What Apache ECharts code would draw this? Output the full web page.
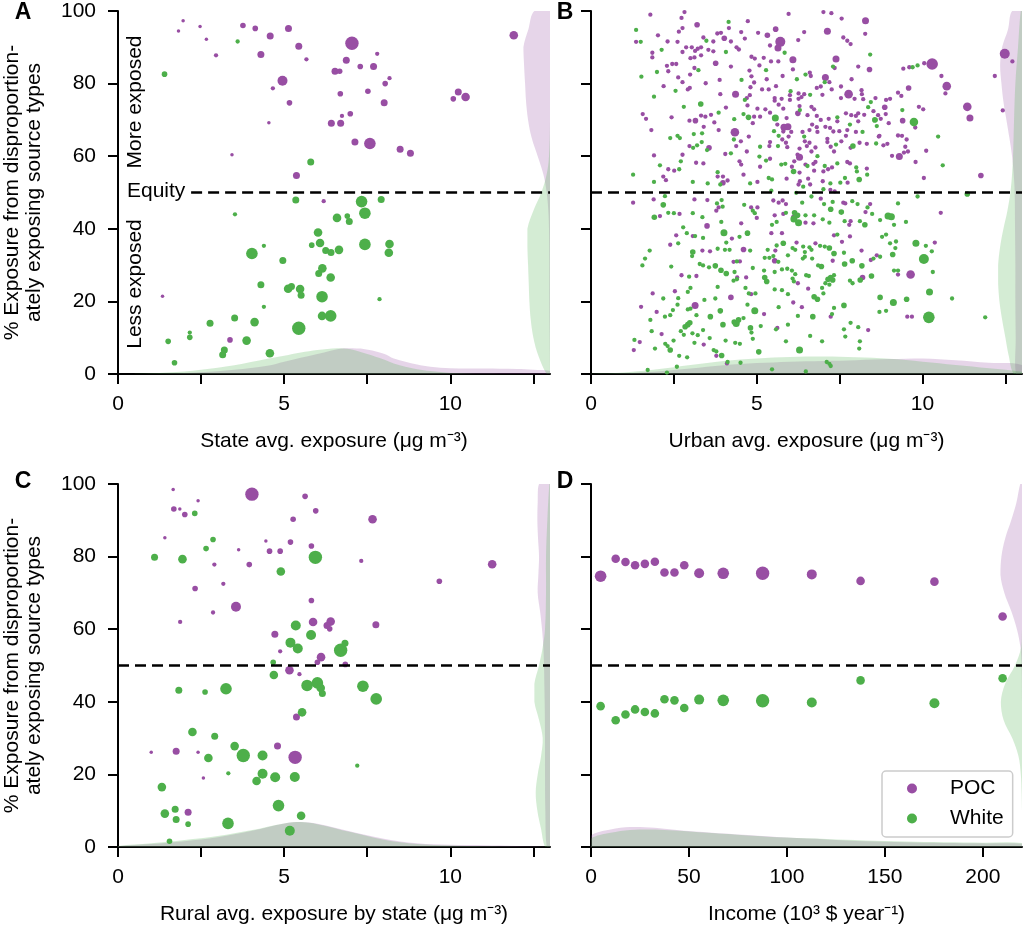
<!DOCTYPE html>
<html><head><meta charset="utf-8">
<script src="https://cdn.jsdelivr.net/npm/echarts@6/dist/echarts.min.js"></script>
<style>html,body{margin:0;padding:0;background:#fff}#c{width:1024px;height:929px}</style>
</head><body><div id="c"></div>
<script>
// ---------------- DATA ----------------
// scatter points: [x, y, marker-size class]
const A_POC = [[1.96,97.3,1],[1.82,94.5,1],[2.47,95.7,1],[2.66,92.2,1],[2.95,87.8,2],[3.76,96.0,3],[4.13,95.2,3],[4.58,93.1,4],[4.30,88.0,4],[5.13,95.2,4],[5.44,90.3,4],[5.67,86.7,2],[7.04,91.1,8],[6.87,86.4,4],[7.29,84.7,3],[7.80,88.2,2],[7.69,84.7,4],[6.53,83.4,4],[6.67,83.4,3],[4.95,80.8,6],[4.66,78.7,2],[6.69,77.2,3],[7.52,77.9,3],[8.04,80.0,3],[8.17,81.5,2],[5.16,74.7,3],[8.01,74.7,4],[4.54,69.2,1],[6.42,69.1,4],[6.70,69.1,4],[6.74,71.1,2],[6.99,71.7,3],[7.13,63.9,4],[7.58,63.5,7],[8.49,61.9,4],[8.80,60.8,4],[3.43,60.4,1],[5.37,54.7,4],[6.19,47.6,2],[10.09,75.8,3],[10.24,77.7,4],[10.46,76.3,5],[11.91,93.3,5],[1.34,21.4,1],[3.37,9.4,3]];
const A_WHITE = [[1.40,82.6,3],[3.60,91.6,2],[5.80,58.4,4],[5.35,47.9,4],[3.52,44.0,2],[7.33,47.5,7],[7.92,48.1,4],[7.43,44.3,7],[6.59,43.0,5],[6.90,43.5,3],[6.96,42.0,4],[6.02,39.0,5],[5.83,35.5,3],[6.08,36.1,5],[6.25,34.0,4],[6.41,33.5,4],[6.65,34.2,5],[7.43,35.7,7],[8.17,35.8,5],[8.15,33.4,5],[4.03,33.2,7],[4.39,35.3,2],[4.96,31.3,4],[6.15,29.1,5],[6.04,27.7,4],[6.40,26.6,5],[4.30,24.6,4],[5.12,23.5,5],[5.22,24.1,4],[5.48,23.4,5],[5.51,21.7,4],[6.14,21.3,7],[4.39,18.5,2],[7.87,20.6,2],[3.51,15.4,4],[4.11,14.3,5],[2.77,14.0,4],[2.16,11.4,2],[2.16,10.1,3],[1.51,9.0,3],[3.87,9.2,5],[3.20,6.6,4],[3.15,5.3,4],[4.57,5.7,5],[1.70,3.1,3],[5.44,12.6,8],[6.14,16.0,5],[6.40,16.0,7]];

const B_POC = [[1.79,99.0,2],[2.73,98.1,2],[2.82,99.7,2],[1.36,91.5,2],[2.02,93.3,2],[2.76,95.3,2],[2.65,94.3,2],[3.20,96.2,3],[3.81,93.8,2],[3.92,94.0,2],[4.02,92.5,3],[4.16,95.3,2],[3.39,92.7,2],[3.69,91.6,2],[2.31,91.6,2],[2.61,91.5,2],[3.04,90.0,2],[2.87,90.0,2],[1.85,88.5,2],[1.85,87.2,2],[2.76,88.7,2],[3.14,89.0,2],[3.22,89.6,2],[3.32,90.0,2],[3.00,87.0,2],[3.12,87.2,2],[3.32,87.8,2],[3.54,89.3,2],[3.69,88.9,2],[4.22,91.6,2],[3.76,85.6,3],[4.22,84.7,2],[2.45,85.4,2],[2.57,85.4,2],[2.29,84.9,2],[2.33,83.4,2],[3.12,84.3,2],[2.99,82.5,2],[2.63,81.7,2],[2.76,80.4,2],[2.19,79.3,2],[2.92,78.4,2],[2.98,78.8,2],[3.46,80.1,2],[3.88,81.0,2],[3.90,77.1,2],[4.36,77.1,4],[4.07,73.4,2],[1.56,71.6,2],[1.66,70.3,2],[2.43,70.7,2],[3.32,71.2,2],[3.45,70.9,2],[3.62,71.4,2],[2.97,69.8,2],[3.15,69.8,3],[3.72,69.3,2],[3.40,68.1,2],[1.82,67.2,2],[3.85,67.2,2],[4.34,66.6,5],[2.97,62.8,2],[3.56,62.3,3],[4.38,62.8,2],[4.05,60.6,2],[1.90,60.2,2],[2.76,60.4,2],[3.17,58.2,2],[3.39,58.0,2],[2.33,56.4,2],[2.51,56.0,2],[2.18,54.4,2],[2.26,53.4,2],[3.82,54.4,2],[3.98,54.4,2],[3.98,52.7,3],[4.12,53.3,2],
[5.96,99.2,2],[7.01,99.7,2],[7.25,99.4,2],[7.56,97.9,2],[8.28,97.3,4],[4.73,97.2,2],[4.53,94.2,2],[4.64,92.4,2],[5.04,94.0,2],[5.32,93.3,3],[5.57,95.0,3],[6.43,94.2,2],[7.13,94.4,4],[6.25,92.0,2],[5.71,91.5,6],[5.64,89.8,4],[5.40,90.5,2],[4.39,90.0,2],[4.46,89.4,2],[7.61,92.7,2],[7.73,91.8,2],[7.83,90.9,2],[8.27,93.7,2],[4.84,87.4,2],[4.94,86.9,2],[5.21,87.1,2],[5.43,86.1,2],[6.09,86.6,4],[7.39,86.8,4],[5.65,86.1,2],[5.08,85.0,2],[4.78,83.6,2],[6.09,83.9,2],[7.35,84.3,2],[8.06,84.7,2],[8.40,83.9,3],[4.84,82.0,2],[5.30,81.2,2],[6.60,83.0,2],[6.63,82.1,2],[5.78,82.1,2],[7.07,81.7,4],[4.92,80.3,2],[5.58,79.3,2],[4.81,79.0,2],[5.16,78.4,2],[5.36,78.4,2],[6.81,78.8,2],[6.93,79.2,2],[7.19,80.4,2],[7.86,81.2,2],[7.54,79.2,2],[7.26,78.4,2],[4.70,76.0,2],[4.79,76.8,2],[5.54,76.0,2],[5.54,75.3,2],[5.75,75.8,2],[6.00,76.8,2],[6.00,75.5,2],[6.26,77.3,2],[6.26,75.8,2],[6.35,76.3,2],[6.43,77.1,2],[6.98,76.9,2],[7.54,76.0,2],[7.77,77.1,5],[8.16,78.2,2],[8.17,77.1,2],[8.21,75.7,2],[7.95,75.8,2],[8.58,76.0,2],[5.02,73.1,2],[4.72,74.0,2],[4.92,70.9,2],[5.10,70.9,2],[5.26,72.9,2],[5.40,72.0,2],[5.66,74.2,2],[5.90,70.5,2],[5.80,73.1,2],[6.24,71.8,3],[6.29,73.8,2],[6.65,73.6,2],[6.73,72.9,2],[6.53,71.3,2],[6.81,71.1,2],[6.93,70.0,2],[7.17,70.3,2],[7.43,69.6,2],[7.69,71.8,2],[7.85,71.3,2],[7.99,71.1,2],[8.06,71.8,2],[8.24,71.4,2],[8.52,72.4,2],[8.66,71.3,2],[8.06,69.6,2],[4.88,69.1,2],[5.82,68.0,4],[5.94,68.1,4],[5.62,68.7,2],[5.80,66.8,2],[6.04,66.7,2],[6.38,66.7,2],[6.59,67.2,2],[6.67,68.7,2],[6.81,68.0,2],[6.83,66.7,2],[7.07,68.1,2],[7.21,67.8,2],[7.31,66.8,2],[7.49,66.9,2],[7.73,67.2,2],[7.99,66.7,2],[8.70,65.6,2],[4.52,64.1,2],[4.76,65.4,2],[5.77,64.6,2],[5.96,65.4,2],[5.40,63.9,2],[5.38,62.8,2],[4.70,61.3,2],[5.88,63.7,2],[5.92,62.5,2],[6.45,64.1,2],[6.51,62.8,2],[6.59,63.7,2],[6.29,62.1,2],[6.23,60.4,2],[6.29,59.7,4],[6.65,61.3,2],[6.77,62.4,2],[7.13,63.9,2],[7.13,64.8,2],[7.23,62.6,2],[7.33,61.3,2],[7.55,64.1,2],[7.69,65.6,2],[7.83,62.3,2],[8.10,63.7,2],[8.32,63.4,2],[4.48,58.6,2],[4.53,57.7,2],[5.40,59.3,2],[5.10,57.1,2],[6.06,57.1,2],[6.13,58.6,2],[6.47,57.7,2],[6.71,57.9,2],[6.77,58.4,2],[6.29,55.5,2],[6.73,56.0,2],[7.01,55.8,2],[7.15,56.4,2],[7.27,56.9,2],[7.73,58.4,2],[7.81,58.0,2],[8.32,56.6,2],[4.60,54.9,2],[5.02,52.9,2],[5.90,53.8,2],[6.30,53.1,2],[6.26,52.2,2],[6.61,52.2,2],[6.55,53.8,2],[6.99,53.1,2],[7.74,52.7,2],[7.22,50.7,2],[7.35,50.3,2],
[12.48,88.2,6],[12.71,86.1,2],[12.18,82.1,2],[12.42,72.6,2],[10.29,85.4,7],[10.05,85.6,2],[9.60,84.5,2],[9.42,84.1,2],[10.57,82.1,2],[10.73,79.3,5],[10.69,77.3,2],[9.58,78.8,3],[9.26,77.5,2],[9.36,76.6,2],[8.90,75.5,2],[9.02,75.8,2],[8.86,73.5,3],[8.89,71.6,2],[9.89,73.6,2],[10.02,72.9,2],[11.35,73.6,5],[11.43,70.5,4],[8.74,70.3,2],[9.40,69.8,3],[8.98,69.1,2],[9.78,67.9,2],[8.68,65.4,2],[9.26,65.7,2],[9.38,65.6,2],[9.52,64.6,2],[8.82,63.0,2],[8.94,63.4,2],[9.48,62.6,2],[9.56,61.3,2],[9.44,61.0,2],[9.30,59.9,4],[9.08,60.1,2],[10.11,61.5,2],[9.79,58.4,2],[10.04,54.0,2],[11.76,54.7,3],
[1.27,47.2,2],[1.89,48.1,2],[3.12,48.1,2],[3.51,47.9,2],[3.85,45.9,2],[3.78,45.0,2],[2.08,43.5,2],[2.67,44.1,2],[3.50,40.8,3],[3.07,38.0,2],[2.57,38.2,2],[4.25,37.3,2],[2.39,35.6,2],[3.36,34.0,2],[3.59,33.8,2],[4.30,30.9,2],[2.73,27.2,2],[3.18,27.0,2],[1.86,22.2,2],[2.53,22.8,2],[4.22,21.1,3],[1.51,18.5,2],[1.98,17.1,2],[3.14,18.9,4],[2.13,11.0,2],[1.47,8.8,2],[1.29,6.6,2],[3.40,8.1,2],[3.78,5.0,2],[4.10,2.9,2],
[4.83,45.9,2],[5.02,45.9,2],[5.50,47.8,2],[5.66,47.2,2],[5.78,47.8,2],[5.88,46.8,2],[6.93,48.3,2],[7.61,47.2,2],[7.67,47.0,2],[8.42,46.8,2],[8.28,44.6,2],[5.00,43.0,2],[5.54,43.7,2],[5.80,44.1,2],[6.10,43.3,2],[6.47,41.7,2],[6.71,41.5,2],[7.79,41.1,2],[7.83,42.1,2],[4.53,41.5,2],[5.44,38.8,2],[5.76,38.8,2],[5.56,34.0,2],[4.60,34.3,3],[5.54,31.2,3],[4.49,31.0,2],[6.20,36.2,2],[6.77,36.0,2],[7.33,38.2,2],[7.57,36.4,2],[7.81,37.9,2],[8.16,34.0,2],[8.44,31.4,2],[7.29,31.2,2],[4.41,26.6,2],[4.68,26.6,2],[6.24,25.0,2],[8.19,26.6,3],[4.83,22.0,2],[6.10,19.7,2],[6.55,23.5,2],[6.36,18.4,2],[5.22,16.5,2],[5.62,12.7,2],[7.23,15.8,2],[8.36,12.1,2],
[10.55,44.4,2],[10.37,36.2,2],[8.62,32.7,2],[9.26,27.4,2],[9.64,27.4,5],[9.54,15.8,2],[9.68,15.8,2]];

const B_WHITE = [[1.36,94.8,2],[1.50,91.5,2],[4.15,97.0,2],[3.48,91.8,2],[2.13,89.3,2],[4.07,88.7,2],[3.24,83.7,2],[1.99,83.2,2],[1.52,81.9,2],[2.55,78.0,2],[1.90,76.4,2],[2.80,73.6,2],[3.31,74.4,3],[3.85,72.0,2],[4.32,70.2,2],[3.10,66.1,2],[3.35,66.3,2],[2.39,65.0,2],[2.61,65.6,2],[2.68,65.0,2],[3.34,63.9,2],[3.08,62.3,2],[3.20,63.0,2],[3.50,61.7,2],[4.22,60.8,2],[2.71,58.6,2],[2.08,57.5,2],[2.66,56.4,2],[1.27,54.9,2],[1.90,52.9,2],[3.07,52.9,2],[3.52,52.5,2],[3.82,55.6,2],[3.90,52.2,2],
[5.84,88.5,2],[8.42,88.0,2],[5.28,83.7,2],[7.30,84.7,2],[4.54,81.0,2],[6.47,82.5,2],[6.21,81.2,2],[7.05,80.4,2],[4.64,75.5,2],[6.02,77.9,2],[6.61,76.9,2],[8.44,74.9,2],[4.60,71.6,2],[4.75,70.7,3],[5.56,70.5,4],[6.30,72.7,2],[7.43,70.7,2],[8.36,73.5,2],[8.56,70.0,3],[7.81,68.7,2],[5.52,66.9,2],[8.19,66.7,2],[4.31,64.6,2],[5.66,65.6,2],[5.10,62.6,2],[5.64,62.8,2],[6.43,65.4,2],[6.83,60.0,2],[7.39,63.2,2],[7.90,62.8,3],[8.60,63.5,2],[5.08,59.9,2],[5.28,58.8,2],[5.74,57.7,2],[5.86,57.9,2],[6.53,57.3,2],[6.11,55.8,3],[7.05,57.3,2],[7.43,58.0,2],[8.02,55.8,2],[8.00,56.9,2],[4.80,52.5,2],[5.36,54.0,2],[5.46,53.6,2],[6.40,51.6,2],[7.22,52.5,2],[7.66,54.0,2],[7.52,52.7,2],[8.09,53.6,3],[8.33,54.9,2],[7.01,50.9,2],[5.44,50.5,2],[6.19,49.9,2],
[9.85,85.0,2],[9.70,84.5,2],[9.39,72.7,2],[8.59,70.0,2],[9.74,69.4,5],[8.62,68.3,2],[10.47,65.4,2],[10.61,57.5,2],[11.35,49.6,3],
[2.23,49.0,2],[2.18,46.6,3],[3.80,47.0,2],[3.94,47.9,2],[3.97,46.1,2],[1.91,43.2,3],[2.33,44.4,2],[2.50,44.3,2],[3.07,44.3,2],[3.36,43.2,2],[3.93,41.9,2],[2.78,40.4,2],[2.89,38.8,2],[3.14,38.0,2],[4.01,38.9,4],[3.38,37.5,2],[4.08,36.2,2],[2.63,36.0,2],[1.77,34.0,2],[3.07,33.6,3],[3.05,32.5,2],[3.82,34.5,2],[4.04,34.2,2],[4.18,34.2,2],[1.63,31.8,2],[1.55,29.9,2],[2.42,29.6,2],[3.28,30.3,2],[3.38,29.9,2],[3.56,29.4,2],[3.75,29.8,3],[3.92,28.6,3],[4.08,27.7,3],[4.40,31.0,2],[2.96,26.8,2],[3.82,24.0,2],[4.30,25.7,2],[4.40,26.1,2],[2.18,20.8,2],[2.63,20.9,2],[2.92,22.6,2],[3.00,23.7,2],[3.42,20.4,2],[3.75,20.8,2],[2.61,19.1,2],[2.47,17.6,2],[2.92,17.8,2],[3.00,18.0,2],[3.18,16.2,2],[3.60,15.8,3],[3.90,17.4,3],[2.23,15.8,2],[2.39,16.2,2],[1.79,14.9,2],[3.98,13.6,3],[1.83,11.8,2],[2.84,13.0,3],[2.92,13.6,3],[2.98,14.1,3],[2.71,11.8,2],[2.80,10.8,2],[3.06,11.2,2],[3.22,10.7,2],[3.38,12.1,2],[3.58,9.9,2],[4.32,14.3,3],[4.38,13.9,4],[4.06,9.2,2],[1.31,9.4,2],[1.93,7.0,2],[2.24,8.3,2],[2.31,7.7,2],[2.39,6.6,3],[2.49,9.2,2],[3.12,8.6,2],[3.70,6.6,2],[3.78,6.2,2],[3.94,5.1,3],[2.66,5.0,2],[2.90,4.6,2],[4.12,3.3,2],[2.59,2.0,2],[1.71,1.1,2],[2.29,0.4,2],
[4.62,46.6,2],[6.37,47.2,2],[6.65,48.9,2],[7.03,46.8,2],[7.29,47.4,2],[7.23,45.4,3],[7.88,47.6,2],[8.04,46.8,2],[8.34,45.9,2],[8.48,44.1,2],[7.55,44.6,3],[4.88,45.0,2],[4.94,44.3,2],[5.88,44.4,2],[5.60,41.9,2],[5.46,41.1,2],[6.14,44.4,3],[6.23,43.7,3],[6.12,42.7,4],[6.26,41.7,4],[6.47,43.7,2],[6.73,43.7,2],[6.99,42.6,2],[7.19,41.7,2],[7.65,42.1,2],[8.11,42.1,2],[8.26,41.1,3],[8.72,42.4,2],[4.72,38.8,3],[4.48,37.8,2],[5.80,36.0,3],[5.60,35.4,2],[5.33,34.2,2],[4.80,34.0,2],[5.24,32.0,2],[5.38,32.0,2],[5.50,32.5,2],[5.65,30.9,2],[5.94,32.7,2],[6.08,34.7,2],[6.16,34.2,2],[6.40,35.1,2],[6.45,33.6,2],[6.59,34.9,2],[6.65,34.2,2],[6.39,31.8,2],[6.45,32.3,2],[6.67,31.8,2],[6.91,35.3,2],[7.05,35.1,2],[7.19,34.7,3],[7.33,33.2,3],[7.43,38.4,2],[7.63,33.4,2],[7.88,31.2,3],[8.17,29.8,3],[8.52,31.8,2],[6.85,29.9,2],[6.95,29.6,3],[7.65,30.3,3],[4.88,29.2,2],[5.22,28.5,2],[5.54,28.1,2],[5.76,28.8,2],[5.92,29.0,2],[6.06,28.5,2],[6.16,27.5,2],[4.33,28.1,2],[5.24,26.6,3],[5.30,25.5,3],[6.08,26.3,2],[6.12,25.5,2],[6.49,27.2,2],[6.57,27.0,2],[7.15,26.1,3],[7.23,26.6,3],[7.29,25.9,3],[7.07,25.0,2],[7.19,24.6,2],[7.33,27.2,2],[6.97,23.7,2],[7.81,25.7,2],[7.89,25.0,2],[8.12,25.9,3],[8.46,27.0,3],[4.76,22.2,2],[4.96,22.2,2],[4.66,23.7,2],[5.54,23.3,2],[5.76,23.1,2],[5.94,22.0,2],[6.73,21.3,3],[6.83,20.6,3],[7.01,22.2,2],[7.33,18.2,2],[4.72,19.1,2],[5.66,18.4,2],[7.63,18.9,3],[4.33,14.1,2],[4.45,14.9,3],[4.60,15.4,2],[4.94,17.4,4],[4.81,12.7,3],[5.12,13.2,2],[5.58,12.3,2],[5.94,13.6,2],[6.24,16.0,2],[6.69,15.8,3],[7.27,16.5,2],[7.83,14.1,2],[8.06,12.9,2],[7.63,12.3,2],[6.61,10.5,2],[4.84,11.4,2],[4.88,9.7,2],[5.88,9.0,2],[6.29,6.6,4],[6.97,9.0,2],[7.67,10.3,2],[8.11,9.0,2],[8.09,7.0,2],[4.49,8.3,2],[4.35,8.6,2],[5.06,6.1,3],[4.51,3.1,2],[7.11,3.3,2],[7.19,2.8,2],[7.23,2.2,2],[5.46,1.3,2],[6.48,0.7,2],
[9.85,48.9,2],[9.26,47.0,2],[8.96,43.5,4],[9.06,43.3,4],[9.14,41.1,2],[9.50,41.9,2],[8.78,37.8,2],[8.90,38.4,2],[9.02,36.0,2],[9.20,36.5,2],[9.80,36.0,4],[9.18,34.7,2],[10.10,35.3,2],[10.28,33.8,2],[9.10,32.9,3],[8.72,32.3,2],[10.04,31.7,6],[9.14,28.5,2],[9.26,28.5,2],[10.31,28.1,2],[10.21,22.6,4],[8.72,21.1,3],[9.12,19.7,4],[9.52,20.6,3],[10.89,20.8,2],[8.70,17.1,2],[8.90,17.4,2],[10.19,15.6,7],[11.89,15.6,2]];

const C_POC = [[1.66,98.5,1],[2.41,95.4,1],[1.68,93.1,3],[1.86,93.1,1],[2.01,91.6,3],[4.03,97.2,8],[5.63,96.6,3],[5.95,92.6,3],[5.27,90.3,3],[7.66,90.3,5],[1.41,85.2,1],[4.45,84.3,1],[5.19,84.0,3],[3.63,81.9,1],[4.56,81.5,3],[4.88,81.5,3],[5.82,82.9,3],[2.90,77.8,2],[3.95,77.8,3],[7.32,78.8,2],[11.26,77.9,5],[9.67,73.2,3],[2.32,71.2,3],[3.17,72.5,2],[3.55,66.2,6],[2.86,64.6,2],[5.82,67.9,3],[1.87,62.0,2],[5.87,62.0,5],[6.40,62.1,5],[6.29,61.0,4],[6.37,60.1,3],[7.76,61.2,4],[4.72,58.6,4],[4.88,53.9,2],[6.11,52.3,5],[6.00,50.9,3],[6.84,50.3,3],[5.16,48.7,5],[5.46,47.6,2],[5.37,35.8,4],[1.00,26.1,1],[1.75,26.4,4],[2.41,26.1,1],[4.80,27.8,4],[5.33,24.7,8],[2.57,19.0,1],[2.11,9.6,4]];
const C_WHITE = [[2.31,91.9,3],[2.86,84.7,3],[2.65,82.2,3],[1.10,79.8,4],[1.94,79.3,5],[5.94,79.8,8],[4.90,75.9,5],[5.35,61.0,6],[5.81,58.4,6],[5.19,56.3,6],[5.41,54.7,6],[6.70,54.2,8],[6.83,56.1,4],[4.67,50.9,3],[4.69,47.4,5],[1.83,43.2,4],[2.62,42.7,3],[3.25,43.6,7],[5.69,44.5,7],[6.00,45.2,7],[6.10,43.8,5],[6.15,42.3,4],[7.37,44.3,7],[7.77,40.8,7],[5.54,37.1,5],[2.24,31.7,5],[2.91,30.5,4],[3.51,27.8,5],[3.77,25.2,8],[2.72,24.5,5],[4.35,25.2,6],[3.32,20.3,2],[4.35,20.2,6],[4.17,18.2,5],[4.73,19.2,6],[5.32,19.3,6],[7.20,22.4,2],[1.32,16.5,5],[1.72,10.4,4],[1.41,9.2,5],[1.75,7.6,4],[2.11,6.3,3],[3.31,6.5,7],[4.83,11.4,7],[5.51,8.6,5],[5.17,4.5,6],[1.55,1.6,3]];

const D_POC = [[4.9,74.6,7],[12.6,79.4,5],[17.6,78.5,5],[22.5,77.6,5],[27.5,78.0,5],[32.6,78.6,5],[37.5,75.6,5],[42.6,75.6,5],[47.6,77.6,5],[55.2,75.4,6],[67.5,75.4,7],[87.6,75.4,8],[112.7,75.1,6],[137.6,73.3,5],[175.3,73.1,5],[210.1,63.5,5]];
const D_WHITE = [[4.9,38.8,5],[12.6,34.9,5],[17.6,36.5,5],[22.5,37.9,5],[27.5,37.2,5],[32.6,36.8,5],[37.5,40.7,5],[42.6,40.4,5],[47.6,38.3,5],[55.2,40.6,6],[67.5,40.4,7],[87.6,40.3,8],[112.7,39.8,6],[137.6,45.9,5],[175.3,39.6,6],[210.1,46.5,5]];

// marginal densities: bottom [x, height], right [width, y]
const A_POC_XKDE = [[0.5,0],[1.5,0.15],[2.5,0.5],[3.5,1.2],[4.5,2.3],[5,3.4],[6,5.5],[6.8,7.1],[7.3,7.0],[8,5.6],[8.3,4.3],[9,2.6],[9.4,2.0],[10,1.6],[11,1.5],[12,1.4],[12.5,1.2],[13,0.9]];
const A_WHITE_XKDE = [[0.5,0.05],[1.5,0.4],[2.5,1.2],[3.5,2.4],[4.5,4.2],[5,5.0],[5.5,5.9],[6,6.6],[6.6,7.1],[7,6.8],[7.5,5.5],[8,4.0],[8.3,2.9],[9,1.3],[9.4,0.8],[10,0.3],[11,0.05],[12,0],[13,0]];
const A_POC_YKDE = [[0,0],[0.01,10],[0.02,20],[0.02,30],[0.03,40],[0.05,45],[0.1,50],[0.2,55],[0.37,60],[0.55,65],[0.66,70],[0.72,75],[0.75,80],[0.78,85],[0.8,90],[0.65,95],[0.47,100]];
const A_WHITE_YKDE = [[0.1,0],[0.35,5],[0.5,10],[0.58,15],[0.62,20],[0.64,25],[0.66,30],[0.68,35],[0.68,40],[0.5,45],[0.26,50],[0.1,55],[0.03,60],[0,70],[0,100]];

const B_POC_XKDE = [[0,0],[1,0.2],[2,0.7],[3,1.5],[4,2.4],[5,3.0],[6,3.4],[7,3.6],[8,3.8],[9,4.1],[10,4.3],[11,3.8],[12,3.1],[13,2.5]];
const B_WHITE_XKDE = [[0,0.1],[1,0.4],[2,1.3],[3,2.5],[4,3.6],[5,4.3],[6,4.7],[7,4.8],[8,4.6],[9,4.2],[10,3.4],[11,2.5],[12,1.6],[13,0.6]];
const B_POC_YKDE = [[0.18,0],[0.19,10],[0.2,20],[0.2,30],[0.21,40],[0.22,50],[0.25,55],[0.3,60],[0.38,65],[0.47,70],[0.56,75],[0.62,80],[0.66,85],[0.6,90],[0.42,95],[0.3,100]];
const B_WHITE_YKDE = [[0.25,0],[0.4,5],[0.5,10],[0.6,15],[0.68,20],[0.72,25],[0.72,30],[0.66,35],[0.56,40],[0.44,45],[0.35,50],[0.3,55],[0.27,60],[0.24,70],[0.2,80],[0.12,90],[0.04,100]];

const C_POC_XKDE = [[0,0.2],[1,0.8],[2,1.6],[3,2.7],[4,4.4],[5,6.5],[5.5,6.9],[6,6.4],[7,4.3],[8,2.3],[9,1.0],[10,0.6],[11,0.5],[12,0.3],[13,0.1]];
const C_WHITE_XKDE = [[0,0.3],[1,1.0],[2,1.9],[3,3.0],[4,4.6],[5,6.5],[5.5,6.9],[6,6.3],[7,4.1],[8,2.0],[9,0.8],[10,0.4],[11,0.2],[12,0.1],[13,0.05]];
const C_POC_YKDE = [[0.1,0],[0.14,10],[0.15,20],[0.15,30],[0.16,40],[0.17,45],[0.18,50],[0.2,55],[0.24,60],[0.3,65],[0.37,70],[0.35,75],[0.33,80],[0.36,85],[0.38,90],[0.37,95],[0.33,100]];
const C_WHITE_YKDE = [[0.15,0],[0.27,5],[0.38,10],[0.43,15],[0.37,20],[0.27,25],[0.22,30],[0.33,35],[0.47,40],[0.47,45],[0.33,50],[0.22,55],[0.15,60],[0.12,70],[0.12,80],[0.08,90],[0.02,100]];

const D_POC_XKDE = [[0,3.1],[10,4.8],[20,5.5],[30,5.4],[40,4.9],[50,4.4],[60,4.0],[80,3.3],[100,2.6],[120,2.1],[140,1.6],[160,1.3],[180,1.1],[200,1.0],[220,0.9]];
const D_WHITE_XKDE = [[0,2.3],[10,3.9],[20,4.7],[30,4.8],[40,4.6],[50,4.3],[60,3.9],[80,3.2],[100,2.6],[120,2.2],[140,1.8],[160,1.5],[180,1.3],[200,1.2],[220,1.1]];
const D_POC_YKDE = [[0,40],[0.2,50],[0.8,55],[2.6,60],[5.5,65],[9.0,70],[11.0,75],[10.5,80],[8.6,85],[5.5,90],[2.8,95],[0.9,100]];
const D_WHITE_YKDE = [[0,10],[0.2,15],[0.6,20],[1.8,25],[5.0,30],[9.4,35],[10.8,40],[8.6,45],[3.6,50],[0.4,55],[0,60]];

// axes / ticks
const EXPOSURE_TICKS = [0, 2.5, 5, 7.5, 10, 12.5];
const EXPOSURE_LABELS = [0, 5, 10];
const INCOME_TICKS = [0, 50, 100, 150, 200];
const Y_TICKS = [0, 20, 40, 60, 80, 100];
const EQUITY = 50;
const X_NAMES = ['State avg. exposure (μg m⁻³)', 'Urban avg. exposure (μg m⁻³)', 'Rural avg. exposure by state (μg m⁻³)', 'Income (10³ $ year⁻¹)'];
const Y_NAME = '% Exposure from disproportion-\nately exposing source types';
const PANEL_LETTERS = ['A', 'B', 'C', 'D'];
const GROUPS = ['POC', 'White'];

// ---------------- STYLE / LAYOUT ----------------
const FONT = "'Liberation Sans', Arial, Helvetica, sans-serif";
const COLORS = { POC: '#984ea3', White: '#4daf4a' };
const FILLS = { POC: 'rgba(152,78,163,0.24)', White: 'rgba(77,175,74,0.24)' };
const SIZE_TABLE = [0, 3.5, 4.3, 5.6, 7, 8.6, 10, 11.6, 13.4];
const GRIDS = [
  { left: 118, top: 11, width: 432, height: 363 },
  { left: 591, top: 11, width: 431, height: 363 },
  { left: 118, top: 484, width: 432, height: 363 },
  { left: 591, top: 484, width: 431, height: 363 }
];
const X_MAX = [13, 13, 13, 220];

const panels = [
  { pts: [A_POC, A_WHITE], xk: [A_POC_XKDE, A_WHITE_XKDE], yk: [A_POC_YKDE, A_WHITE_YKDE] },
  { pts: [B_POC, B_WHITE], xk: [B_POC_XKDE, B_WHITE_XKDE], yk: [B_POC_YKDE, B_WHITE_YKDE] },
  { pts: [C_POC, C_WHITE], xk: [C_POC_XKDE, C_WHITE_XKDE], yk: [C_POC_YKDE, C_WHITE_YKDE] },
  { pts: [D_POC, D_WHITE], xk: [D_POC_XKDE, D_WHITE_XKDE], yk: [D_POC_YKDE, D_WHITE_YKDE] }
];

const axisLineStyle = { color: '#000', width: 2 };
const xAxes = [], yAxes = [], series = [];

GRIDS.forEach((g, i) => {
  const isIncome = i === 3;
  xAxes.push({
    type: 'value', gridIndex: i, min: 0, max: X_MAX[i],
    name: X_NAMES[i], nameLocation: 'middle', nameGap: 57,
    nameTextStyle: { fontSize: 21, color: '#000', fontFamily: FONT },
    axisLine: { onZero: false, lineStyle: axisLineStyle },
    axisTick: { length: 10, lineStyle: axisLineStyle, customValues: isIncome ? INCOME_TICKS : EXPOSURE_TICKS },
    axisLabel: { fontSize: 21, color: '#000', fontFamily: FONT, margin: 20, customValues: isIncome ? INCOME_TICKS : EXPOSURE_LABELS },
    splitLine: { show: false }
  });
  yAxes.push({
    type: 'value', gridIndex: i, min: 0, max: 100, interval: 20,
    name: i % 2 === 0 ? Y_NAME : '', nameLocation: 'middle', nameGap: 73,
    nameTextStyle: { fontSize: 21, lineHeight: 22, color: '#000', fontFamily: FONT },
    axisLine: { show: true, onZero: false, lineStyle: axisLineStyle },
    axisTick: { show: true, length: 10, lineStyle: axisLineStyle },
    axisLabel: { show: i % 2 === 0, fontSize: 21, color: '#000', fontFamily: FONT, margin: 22 },
    splitLine: { show: false }
  });
});
// hidden reversed x axes for the right-hand marginal densities
GRIDS.forEach((g, i) => {
  xAxes.push({ type: 'value', gridIndex: i, min: 0, max: X_MAX[i], inverse: true, show: false,
    axisLine: { show: false }, axisTick: { show: false }, axisLabel: { show: false }, splitLine: { show: false } });
});

function densitySeries(xAxisIndex, yAxisIndex, pts, fill, vertical) {
  return {
    type: 'custom', xAxisIndex: xAxisIndex, yAxisIndex: yAxisIndex, z: 1, silent: true, clip: true,
    data: pts,
    renderItem: function (params, api) {
      if (params.dataIndex !== 0) return null;
      const poly = pts.map(p => api.coord(p));
      const last = pts[pts.length - 1], first = pts[0];
      if (vertical) { poly.push(api.coord([0, last[1]]), api.coord([0, first[1]])); }
      else { poly.push(api.coord([last[0], 0]), api.coord([first[0], 0])); }
      let x0 = Infinity, y0 = Infinity, x1 = -Infinity, y1 = -Infinity;
      poly.forEach(q => { x0 = Math.min(x0, q[0]); y0 = Math.min(y0, q[1]); x1 = Math.max(x1, q[0]); y1 = Math.max(y1, q[1]); });
      return { type: 'polygon', shape: { points: poly, smooth: 0.35, smoothConstraint: [[x0, y0], [x1, y1]] },
               style: { fill: fill, blend: 'multiply' } };
    }
  };
}

function sizeOf(v) {
  if (v && v.length > 2) return SIZE_TABLE[v[2]] || 5;
  return 10;
}

panels.forEach((p, i) => {
  GROUPS.forEach((gname, k) => {
    series.push(densitySeries(i, i, p.xk[k], FILLS[gname], false));
    series.push(densitySeries(i + 4, i, p.yk[k], FILLS[gname], true));
  });
  GROUPS.forEach((gname, k) => {
    const s = {
      type: 'scatter', name: gname, xAxisIndex: i, yAxisIndex: i, z: 2,
      data: p.pts[k],
      symbol: 'circle',
      symbolSize: sizeOf,
      itemStyle: { color: COLORS[gname], opacity: 1 },
      emphasis: { disabled: true }
    };
    if (k === 1) {
      s.markLine = {
        silent: true, symbol: ['none', 'none'], z: 5,
        label: { show: false },
        lineStyle: { color: '#000', width: 2.7, type: [11, 6] },
        data: i === 0
          ? [[{ coord: [2.2, EQUITY] }, { coord: [X_MAX[i], EQUITY] }]]
          : [{ yAxis: EQUITY }]
      };
    }
    series.push(s);
  });
});

const graphics = [];
const letterPos = [[23, 13], [565, 13], [23, 482], [565, 482]];
PANEL_LETTERS.forEach((L, i) => {
  graphics.push({ type: 'text', x: letterPos[i][0], y: letterPos[i][1],
    style: { text: L, font: "bold 23px " + FONT, fill: '#000', textAlign: 'center', textVerticalAlign: 'middle' } });
});
graphics.push({ type: 'text', x: 135, y: 102, rotation: Math.PI / 2,
  style: { text: 'More exposed', font: "21px " + FONT, fill: '#000', textAlign: 'center', textVerticalAlign: 'middle' } });
graphics.push({ type: 'text', x: 135, y: 284, rotation: Math.PI / 2,
  style: { text: 'Less exposed', font: "21px " + FONT, fill: '#000', textAlign: 'center', textVerticalAlign: 'middle' } });
graphics.push({ type: 'text', x: 127, y: 191,
  style: { text: 'Equity', font: "21px " + FONT, fill: '#000', textAlign: 'left', textVerticalAlign: 'middle' } });

const chart = echarts.init(document.getElementById('c'), null, { renderer: 'canvas' });
chart.setOption({
  animation: false,
  backgroundColor: '#fff',
  textStyle: { fontFamily: FONT },
  grid: GRIDS,
  xAxis: xAxes,
  yAxis: yAxes,
  legend: {
    data: GROUPS, orient: 'vertical', left: 882, top: 771,
    padding: [7, 9, 8, 25], itemGap: 9, itemWidth: 10, itemHeight: 10,
    icon: 'circle',
    backgroundColor: 'rgba(255,255,255,0.85)', borderColor: '#cccccc', borderWidth: 1.5, borderRadius: 4,
    textStyle: { fontSize: 21, color: '#000', fontFamily: FONT, padding: [0, 0, 0, 28] },
    selectedMode: false
  },
  graphic: graphics,
  series: series
});
</script></body></html>
